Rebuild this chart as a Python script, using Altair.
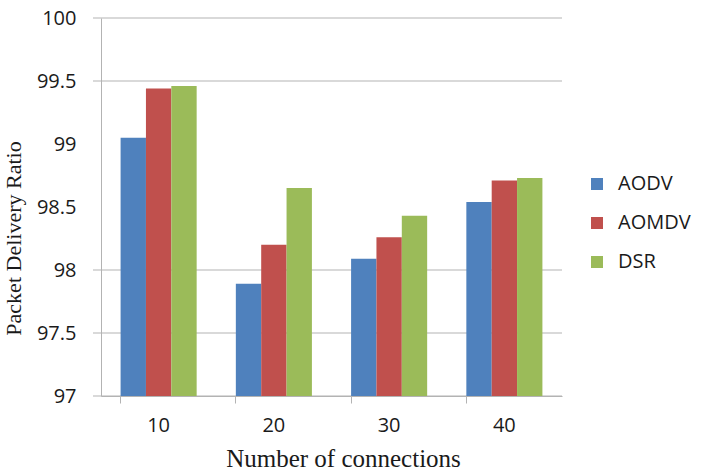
import altair as alt
import pandas as pd

# Packet delivery ratio per routing protocol vs. number of connections
connections = ["10", "20", "30", "40"]
protocols = ["AODV", "AOMDV", "DSR"]
aodv = [99.05, 97.89, 98.09, 98.54]
aomdv = [99.44, 98.20, 98.26, 98.71]
dsr = [99.46, 98.65, 98.43, 98.73]
y_ticks = [97, 97.5, 98, 98.5, 99, 99.5, 100]
grid_levels = [97, 97.5, 98, 99.5, 100]
colors = ["#4F81BD", "#C0504D", "#9BBB59"]

rows = []
for name, series in zip(protocols, [aodv, aomdv, dsr]):
    for c, v in zip(connections, series):
        rows.append({"connections": c, "protocol": name, "pdr": v})
df = pd.DataFrame(rows)
grid_df = pd.DataFrame({"level": grid_levels})

W, H = 461, 378
GRAY = "#b3b3b3"
TEXT = "#1a1a1a"
SANS = "Open Sans"
SERIF = "Liberation Serif"

y_scale = alt.Scale(domain=[97, 100], nice=False, zero=False)

grid = alt.Chart(grid_df).mark_rule(color=GRAY, strokeWidth=1).encode(
    y=alt.Y("level:Q", scale=y_scale),
    x=alt.value(-8),
    x2=alt.value(W),
)

bars = alt.Chart(df).mark_bar().encode(
    x=alt.X(
        "connections:N",
        sort=connections,
        scale=alt.Scale(paddingInner=0.34, paddingOuter=0.17),
        axis=alt.Axis(
            title="Number of connections",
            labelAngle=0,
            labelFont=SANS,
            labelFontSize=20,
            labelColor=TEXT,
            labelPadding=12,
            bandPosition=0,
            tickSize=7,
            tickColor=GRAY,
            domainColor=GRAY,
            titleFont=SERIF,
            titleFontSize=25,
            titleFontWeight="normal",
            titleColor=TEXT,
            titleX=242,
            titleY=70,
            titleBaseline="alphabetic",
        ),
    ),
    xOffset=alt.XOffset("protocol:N", sort=protocols, scale=alt.Scale(paddingInner=0, paddingOuter=0)),
    y=alt.Y(
        "pdr:Q",
        scale=y_scale,
        axis=alt.Axis(
            title="Packet Delivery Ratio",
            values=y_ticks,
            format="~g",
            grid=False,
            ticks=False,
            tickSize=0,
            labelFont=SANS,
            labelFontSize=20,
            labelColor=TEXT,
            labelPadding=25,
            domainColor=GRAY,
            titleFont=SERIF,
            titleFontSize=22,
            titleFontWeight="normal",
            titleColor=TEXT,
            titleX=-81,
            titleY=220,
            titleAlign="center",
            titleBaseline="alphabetic",
        ),
    ),
    y2=alt.datum(97),
    color=alt.Color(
        "protocol:N",
        sort=protocols,
        scale=alt.Scale(domain=protocols, range=colors),
        legend=alt.Legend(
            title=None,
            orient="none",
            legendX=486,
            legendY=156,
            symbolType="square",
            symbolSize=144,
            symbolStrokeWidth=0,
            labelFont=SANS,
            labelFontSize=20,
            labelColor=TEXT,
            labelOffset=11,
            rowPadding=19,
        ),
    ),
)

chart = (
    alt.layer(grid, bars)
    .properties(
        width=W,
        height=H,
        autosize=alt.AutoSizeParams(type="none"),
        padding={"left": 101, "top": 18, "right": 139, "bottom": 75},
        background="white",
    )
    .configure_view(stroke=None)
)

chart.save("out.html", embed_options={"renderer": "svg", "actions": False})
